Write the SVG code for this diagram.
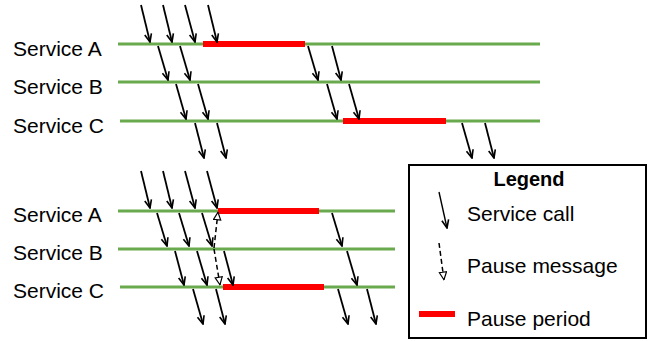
<svg xmlns="http://www.w3.org/2000/svg" width="650" height="341" viewBox="0 0 650 341">
<defs>
<style>
.lbl{font-family:"Liberation Sans",Arial,sans-serif;font-size:21px;fill:#000}
.ttl{font-family:"Liberation Sans",Arial,sans-serif;font-size:20px;font-weight:bold;fill:#000}
.svc{stroke:#6AAA4E;stroke-width:3;fill:none}
.pause{stroke:#FF0000;stroke-width:6;fill:none}
.call{stroke:#000;stroke-width:1.8;fill:none;marker-end:url(#ah)}
.msg{stroke:#000;stroke-width:1.5;fill:none;stroke-dasharray:5 3;marker-end:url(#hh)}
</style>
<marker id="ah" viewBox="0 0 10 10" refX="9.5" refY="5" markerWidth="10" markerHeight="9" markerUnits="userSpaceOnUse" orient="auto">
<path d="M0.5,1.2 L9.5,5 L0.5,8.8" fill="none" stroke="#000" stroke-width="1.8"/>
</marker>
<marker id="hh" viewBox="0 0 10 10" refX="9.5" refY="5" markerWidth="9" markerHeight="9" markerUnits="userSpaceOnUse" orient="auto">
<path d="M0.8,1 L9.2,5 L0.8,9 Z" fill="#fff" stroke="#000" stroke-width="1.3"/>
</marker>
</defs>
<rect width="650" height="341" fill="#fff"/>

<g id="top-service-a"><text class="lbl" x="13" y="56">Service A</text><line class="svc" x1="118" y1="44" x2="540" y2="44"/><line class="pause" x1="203" y1="44" x2="305" y2="44"/></g>
<g id="top-service-b"><text class="lbl" x="13" y="94">Service B</text><line class="svc" x1="118" y1="82" x2="540" y2="82"/></g>
<g id="top-service-c"><text class="lbl" x="13" y="133">Service C</text><line class="svc" x1="120" y1="121" x2="540" y2="121"/><line class="pause" x1="343" y1="121" x2="446" y2="121"/></g>

<g id="bot-service-a"><text class="lbl" x="13" y="222">Service A</text><line class="svc" x1="118" y1="211" x2="395" y2="211"/><line class="pause" x1="218" y1="211" x2="319" y2="211"/></g>
<g id="bot-service-b"><text class="lbl" x="13" y="260">Service B</text><line class="svc" x1="118" y1="249" x2="395" y2="249"/></g>
<g id="bot-service-c"><text class="lbl" x="13" y="298">Service C</text><line class="svc" x1="120" y1="287" x2="395" y2="287"/><line class="pause" x1="223" y1="287" x2="324" y2="287"/></g>

<g id="connectors">
<line class="call" x1="141" y1="5" x2="150" y2="42"/>
<line class="call" x1="163" y1="5" x2="172" y2="42"/>
<line class="call" x1="185" y1="5" x2="195" y2="42"/>
<line class="call" x1="208" y1="5" x2="217" y2="42"/>
<line class="call" x1="158" y1="46" x2="168" y2="80"/>
<line class="call" x1="180" y1="46" x2="190" y2="80"/>
<line class="call" x1="176" y1="84" x2="186" y2="119"/>
<line class="call" x1="198" y1="84" x2="208" y2="119"/>
<line class="call" x1="195" y1="123" x2="204" y2="158"/>
<line class="call" x1="217" y1="123" x2="226" y2="158"/>
<line class="call" x1="308" y1="46" x2="318" y2="80"/>
<line class="call" x1="332" y1="46" x2="341" y2="80"/>
<line class="call" x1="327" y1="84" x2="337" y2="119"/>
<line class="call" x1="349" y1="84" x2="359" y2="119"/>
<line class="call" x1="462" y1="123" x2="472" y2="158"/>
<line class="call" x1="485" y1="123" x2="494" y2="158"/>

<line class="call" x1="141" y1="171" x2="150" y2="208"/>
<line class="call" x1="163" y1="171" x2="172" y2="208"/>
<line class="call" x1="185" y1="171" x2="195" y2="208"/>
<line class="call" x1="207" y1="171" x2="217" y2="208"/>
<line class="call" x1="157" y1="213" x2="167" y2="246"/>
<line class="call" x1="179" y1="213" x2="189" y2="246"/>
<line class="call" x1="202" y1="213" x2="212" y2="246"/>
<line class="call" x1="175" y1="251" x2="184" y2="285"/>
<line class="call" x1="197" y1="251" x2="207" y2="285"/>
<line class="call" x1="224" y1="251" x2="233" y2="285"/>
<line class="call" x1="193" y1="289" x2="203" y2="324"/>
<line class="call" x1="216" y1="289" x2="225" y2="324"/>
<line class="call" x1="332" y1="213" x2="342" y2="246"/>
<line class="call" x1="347" y1="251" x2="357" y2="285"/>
<line class="call" x1="338" y1="289" x2="348" y2="324"/>
<line class="call" x1="367" y1="289" x2="376" y2="324"/>
<line class="msg" x1="214" y1="248" x2="218" y2="212"/>
<line class="msg" x1="214" y1="249" x2="220" y2="285"/>
</g>

<g id="legend">
<rect x="409" y="165" width="237" height="173" fill="#fff" stroke="#000" stroke-width="2"/>
<text class="ttl" x="529" y="186" text-anchor="middle">Legend</text>
<line class="call" x1="439" y1="192" x2="447" y2="228" style="stroke-width:1.4"/>
<text class="lbl" x="467" y="221">Service call</text>
<line class="msg" x1="439" y1="243" x2="444" y2="280"/>
<text class="lbl" x="467" y="273">Pause message</text>
<line class="pause" x1="419" y1="314" x2="455" y2="314"/>
<text class="lbl" x="467" y="326">Pause period</text>
</g>
</svg>
